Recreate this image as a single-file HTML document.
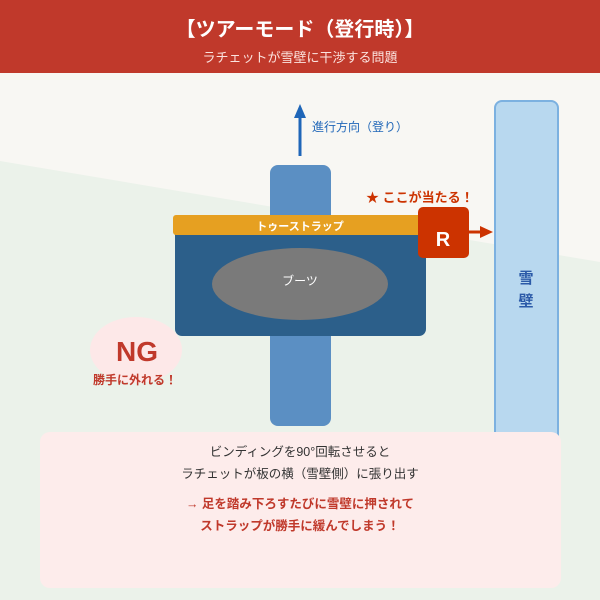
<!DOCTYPE html>
<html><head><meta charset="utf-8"><style>
body{margin:0;width:600px;height:600px;overflow:hidden;font-family:"Liberation Sans","Noto Sans CJK JP",sans-serif;}
</style></head><body>
<svg width="600" height="600" xmlns="http://www.w3.org/2000/svg" style="display:block;font-family:'Liberation Sans','Noto Sans CJK JP',sans-serif">
<rect width="600" height="600" fill="#f8f7f3"/>
<polygon points="0,161 600,262 600,600 0,600" fill="#ebf2ea"/>
<rect width="600" height="73" fill="#c0392b"/>
<text x="300" y="36" font-size="20" font-weight="bold" fill="#fff" text-anchor="middle">【ツアーモード（登行時）】</text>
<text x="300" y="62" font-size="13" fill="#fbe3df" text-anchor="middle">ラチェットが雪壁に干渉する問題</text>
<rect x="495" y="101" width="63" height="345" rx="7" fill="#b8d8ef" stroke="#7cb1e0" stroke-width="2"/>
<text x="526" y="283" font-size="15" font-weight="bold" fill="#2b5aa8" text-anchor="middle">雪</text>
<text x="526" y="306" font-size="15" font-weight="bold" fill="#2b5aa8" text-anchor="middle">壁</text>
<line x1="300" y1="156" x2="300" y2="116" stroke="#1f66b8" stroke-width="3"/>
<polygon points="300,104 294,118 306,118" fill="#1f66b8"/>
<text x="312" y="131" font-size="12" fill="#1f66b8">進行方向（登り）</text>
<rect x="270" y="165" width="61" height="261" rx="8" fill="#5b8fc3"/>
<rect x="175" y="215" width="251" height="121" rx="7" fill="#2c5f8a"/>
<rect x="173" y="215" width="250" height="20" rx="3" fill="#e6a021"/>
<text x="300" y="230" font-size="11" font-weight="bold" fill="#fff" text-anchor="middle">トゥーストラップ</text>
<ellipse cx="300" cy="284" rx="88" ry="36" fill="#7a7a7a"/>
<text x="300" y="285" font-size="12" fill="#fff" text-anchor="middle">ブーツ</text>
<rect x="418" y="207" width="51" height="51" rx="5" fill="#cc3300"/>
<text x="443" y="246" font-size="20" font-weight="bold" fill="#fff" text-anchor="middle">R</text>
<line x1="469" y1="232" x2="482" y2="232" stroke="#cc3300" stroke-width="3"/>
<polygon points="493,232 480,226 480,238" fill="#cc3300"/>
<text x="366" y="202" font-size="13" font-weight="bold" fill="#cc3300">★ ここが当たる！</text>
<ellipse cx="136" cy="350" rx="46" ry="33" fill="#fde8e8"/>
<text x="137" y="361" font-size="28" font-weight="bold" fill="#c0392b" text-anchor="middle">NG</text>
<text x="135" y="384" font-size="12" font-weight="bold" fill="#c0392b" text-anchor="middle">勝手に外れる！</text>
<rect x="40" y="432" width="521" height="156" rx="10" fill="#fdeceb"/>
<text x="300" y="456" font-size="12.5" fill="#333" text-anchor="middle">ビンディングを90°回転させると</text>
<text x="300" y="478" font-size="12.5" fill="#333" text-anchor="middle">ラチェットが板の横（雪壁側）に張り出す</text>
<text x="300" y="508" font-size="12.5" font-weight="bold" fill="#c0392b" text-anchor="middle">→ 足を踏み下ろすたびに雪壁に押されて</text>
<text x="300" y="530" font-size="12.5" font-weight="bold" fill="#c0392b" text-anchor="middle">ストラップが勝手に緩んでしまう！</text>
</svg>
</body></html>
